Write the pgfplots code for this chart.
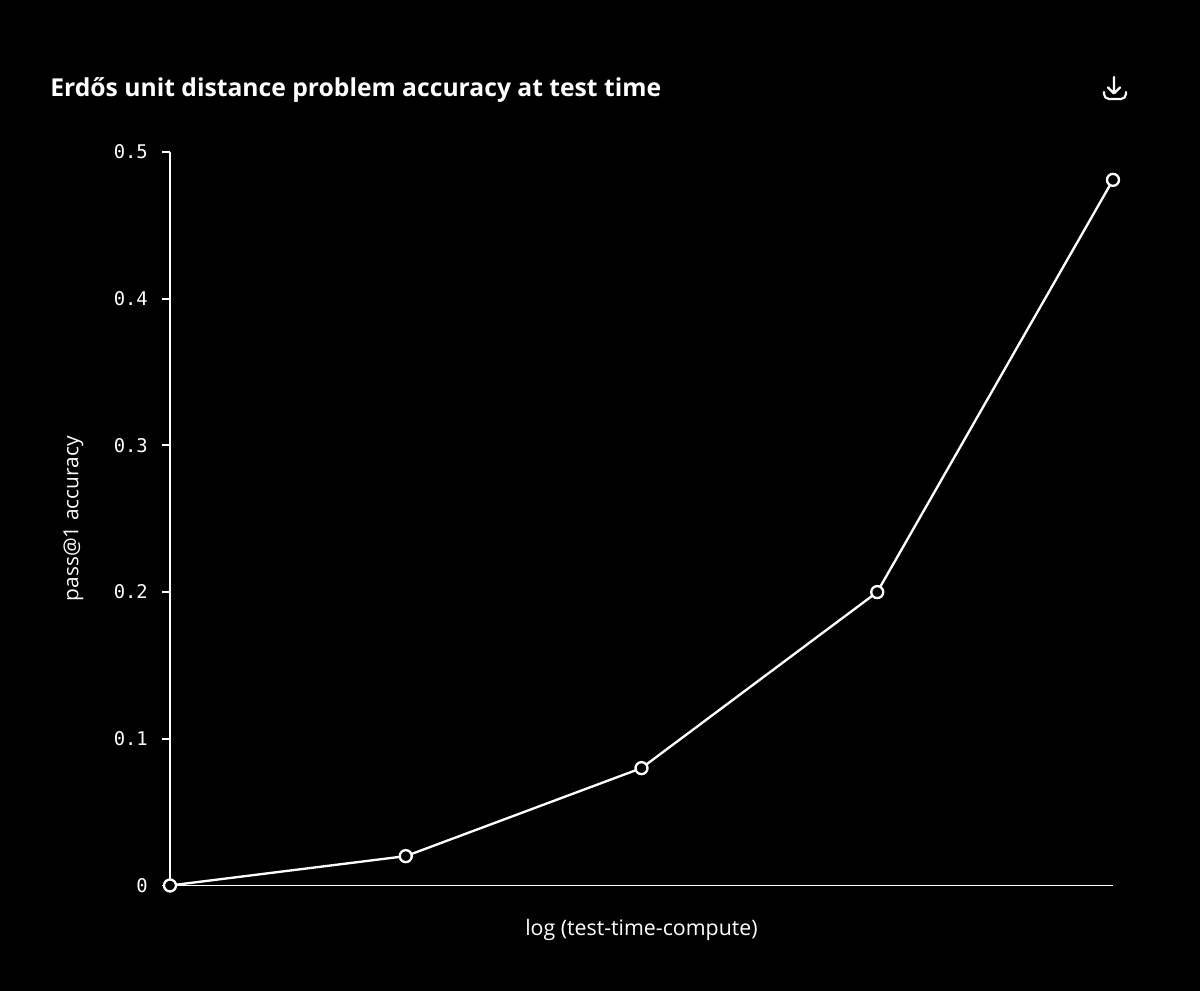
\documentclass[border=0pt]{standalone}
\usepackage{pgfplots}
\pgfplotsset{compat=1.18}
\usepackage{fontspec}
\setmainfont{Open Sans}
\newfontfamily\monof{DejaVu Sans Mono}
\begin{document}
\begin{tikzpicture}[x=1pt,y=1pt]
\begin{scope}[shift={(-102pt,531.3pt)},x=0.6pt,y=-0.6pt]
\fill[black] (0,0) rectangle (1200,991);
\end{scope}
\begin{axis}[
  at={(0pt,0pt)},anchor=origin,
  scale only axis,width=565.8pt,height=440.1pt,
  xmin=0,xmax=4,ymin=0,ymax=0.5,
  clip=false,
  axis lines=left,
  axis line style={white,line width=1.1pt,-},
  x axis line style={-},y axis line style={-},
  xtick=\empty,
  ytick={0,0.1,0.2,0.3,0.4,0.5},
  yticklabels={0,0.1,0.2,0.3,0.4,0.5},
  ytick style={white,line width=1.1pt},
  tick align=outside,
  major tick length=4.8pt,
  yticklabel style={text=white,font=\monof\fontsize{11.3}{13}\selectfont,xshift=-5pt},
  xlabel={log (test-time-compute)},
  ylabel={pass@1 accuracy},
  xlabel style={text=white,font=\fontsize{12.8}{15}\selectfont,at={(axis description cs:0.5,0)},anchor=center,yshift=-26.5pt},
  ylabel style={text=white,font=\fontsize{12.5}{15}\selectfont,at={(axis description cs:0,0.5)},anchor=center,yshift=58pt},
]
\addplot[white,line width=1.4pt,mark=*,mark size=3.6pt,
  mark options={fill=black,draw=white,line width=1.4pt}]
  coordinates {(0,0) (1,0.02) (2,0.08) (3,0.2) (4,0.481)};
\end{axis}
\begin{scope}[shift={(-102pt,531.3pt)},x=0.6pt,y=-0.6pt]
\node[anchor=west,text=white,font=\bfseries\fontsize{14.8}{17}\selectfont,inner sep=0pt] at (50,90) {Erdős unit distance problem accuracy at test time};
\draw[white,line width=1.3pt,line cap=round,line join=round]
  (1114,77) -- (1114,93) (1108,87.5) -- (1114,93.5) -- (1120,87.5);
\draw[white,line width=1.3pt,line cap=round]
  (1104,92) -- (1104,94) arc[start angle=180,end angle=90,radius=5] -- (1104+5,99) -- (1121,99) arc[start angle=90,end angle=0,radius=5] -- (1126,92);
\end{scope}
\end{tikzpicture}
\end{document}
